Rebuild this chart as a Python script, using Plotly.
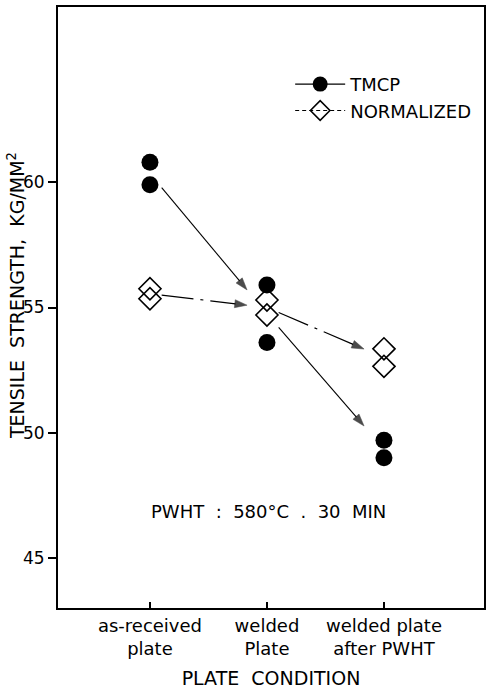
import plotly.graph_objects as go
import numpy as np

categories = ["as-received<br>plate", "welded<br>Plate", "welded plate<br>after PWHT"]
tmcp_values = [[60.8, 59.9], [55.9, 53.6], [49.7, 49.0]]
normalized_values = [[55.75, 55.35], [55.3, 54.7], [53.35, 52.65]]
y_ticks = [45, 50, 55, 60]

FONT = "DejaVu Sans"
BLACK = "black"
DASHDOT = "32px,7px,3px,7px"
fig = go.Figure()


def points(vals):
    xs, ys = [], []
    for i, v in enumerate(vals):
        for y in v:
            xs.append(i)
            ys.append(y)
    return xs, ys


def add_arrows(vals, width, dash):
    means = [float(np.mean(v)) for v in vals]
    for i in range(len(vals) - 1):
        x0, y0, x1, y1 = i, means[i], i + 1, means[i + 1]

        def at(f):
            return x0 + f * (x1 - x0), y0 + f * (y1 - y0)

        sx, sy = at(0.1)
        ex, ey = at(0.83)
        fig.add_trace(go.Scatter(
            x=[sx, ex], y=[sy, ey], mode="lines+markers", showlegend=False,
            hoverinfo="skip",
            line=dict(color=BLACK, width=width, dash=dash),
            marker=dict(symbol=["circle", "arrow"], size=[0, 13], color=BLACK,
                        angleref="previous", line=dict(width=0.5, color=BLACK))))


# TMCP
add_arrows(tmcp_values, 1.1, "solid")
px_, py_ = points(tmcp_values)
fig.add_trace(go.Scatter(x=px_, y=py_, mode="markers", showlegend=False,
                         marker=dict(symbol="circle", size=17, color=BLACK)))

# NORMALIZED
add_arrows(normalized_values, 1.2, DASHDOT)
px_, py_ = points(normalized_values)
fig.add_trace(go.Scatter(x=px_, y=py_, mode="markers", showlegend=False,
                         marker=dict(symbol="diamond-open", size=17, color=BLACK,
                                     line=dict(width=1.6, color=BLACK))))

# legend entries
fig.add_trace(go.Scatter(x=[None], y=[None], mode="lines+markers", name="TMCP",
                         legendgroup="a",
                         line=dict(color=BLACK, width=1.2),
                         marker=dict(symbol="circle", size=15, color=BLACK)))
fig.add_trace(go.Scatter(x=[None], y=[None], mode="lines+markers", name="NORMALIZED",
                         legendgroup="b",
                         line=dict(color=BLACK, width=1.2, dash="4px,3px"),
                         marker=dict(symbol="diamond-open", size=15, color=BLACK,
                                     line=dict(width=1.6, color=BLACK))))

fig.add_annotation(x=0.495, y=0.16, xref="paper", yref="paper",
                   xanchor="center", yanchor="middle",
                   text="PWHT  :  580°C  .  30  MIN", showarrow=False,
                   font=dict(family=FONT, size=18, color=BLACK))

fig.add_annotation(x=0, y=0.519, xref="paper", yref="paper",
                   xanchor="center", yanchor="middle", xshift=-42,
                   textangle=-90, showarrow=False,
                   text="TENSILE  STRENGTH,  KG/MM<sup>2</sup>",
                   font=dict(family=FONT, size=19, color=BLACK))

fig.update_layout(
    width=489, height=690,
    margin=dict(l=58, r=5, t=7, b=82),
    paper_bgcolor="white", plot_bgcolor="white",
    font=dict(family=FONT, color=BLACK, size=16),
    legend=dict(x=0.545, y=0.902, xanchor="left", yanchor="top",
                bgcolor="rgba(0,0,0,0)", font=dict(size=18, family=FONT),
                traceorder="grouped", tracegroupgap=0, itemwidth=50),
    xaxis=dict(range=[-0.786, 2.855], tickvals=[0, 1, 2], ticktext=categories,
               ticks="inside", ticklen=6, tickwidth=1.5, tickcolor=BLACK,
               showline=True, linewidth=2, linecolor=BLACK, mirror=True,
               showgrid=False, zeroline=False, automargin=False,
               tickfont=dict(size=18, family=FONT),
               title=dict(text="PLATE  CONDITION", font=dict(size=19, family=FONT),
                          standoff=14)),
    yaxis=dict(range=[43, 67], tickvals=y_ticks,
               ticks="outside", ticklen=8, tickwidth=1.5, tickcolor=BLACK,
               showline=True, linewidth=2, linecolor=BLACK, mirror=True,
               showgrid=False, zeroline=False, automargin=False,
               tickfont=dict(size=17, family=FONT)),
)

fig.write_html("out.html", config={"displayModeBar": False},
               post_script="document.body.style.margin='0';")
